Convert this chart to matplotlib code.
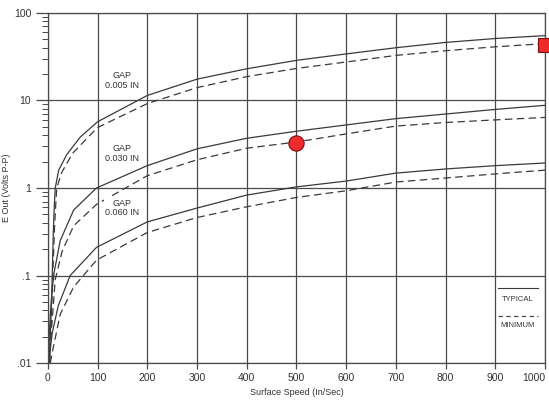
#!/usr/bin/env python
# -*- coding: utf-8 -*-
"""E Out vs surface speed for three probe gaps (log scale)."""

import matplotlib
matplotlib.use('Agg')
import matplotlib.pyplot as plt
from matplotlib.lines import Line2D
from matplotlib.ticker import FixedLocator, LogLocator, NullFormatter

plt.rcParams['font.family'] = ['Liberation Sans', 'DejaVu Sans']

#-----------------------------------------------------------------------------
# Data (speed in In/Sec, E out in Volts P-P)
speed005_typ = [3, 5, 7, 9, 11, 13, 15, 22, 38, 65, 100, 200, 300, 400, 500,
                600, 700, 800, 900, 1000]
gap005_typ = [0.01, 0.02, 0.04, 0.1, 0.3, 0.6, 1.0, 1.6, 2.4, 3.8, 5.7,
              11.4, 17.5, 23.0, 28.7, 34.0, 40.0, 46.0, 51.0, 55.0]

speed005_min = [4, 7, 10, 14, 18, 28, 50, 100, 200, 300, 400, 500, 600, 700,
                800, 900, 1000]
gap005_min = [0.01, 0.03, 0.1, 0.4, 1.0, 1.5, 2.5, 4.9, 9.2, 14.0, 18.7,
              23.2, 27.5, 32.7, 37.0, 41.0, 44.6]

speed030_typ = [1, 3, 5, 9, 13, 25, 52, 98, 200, 300, 400, 500, 600, 700,
                800, 900, 1000]
gap030_typ = [0.01, 0.02, 0.035, 0.07, 0.11, 0.25, 0.56, 1.0, 1.8, 2.8, 3.7,
              4.45, 5.25, 6.2, 7.0, 7.9, 8.8]

speed030_min = [3, 6, 9, 15, 29, 52, 98, 200, 300, 400, 500, 600, 700, 800,
                900, 1000]
gap030_min = [0.01, 0.02, 0.031, 0.09, 0.19, 0.37, 0.65, 1.38, 2.1, 2.85,
              3.35, 4.15, 5.1, 5.6, 6.0, 6.4]

speed060_typ = [3, 6, 9, 21, 45, 98, 200, 300, 400, 500, 600, 700, 800, 900,
                1000]
gap060_typ = [0.01, 0.016, 0.022, 0.045, 0.1, 0.21, 0.41, 0.59, 0.83, 1.03,
              1.2, 1.48, 1.65, 1.8, 1.93]

speed060_min = [5, 11, 25, 52, 98, 200, 300, 400, 500, 600, 700, 800, 900,
                1000]
gap060_min = [0.01, 0.015, 0.036, 0.074, 0.15, 0.31, 0.46, 0.61, 0.78, 0.93,
              1.17, 1.3, 1.45, 1.6]

# labels: (speed, volts, text)
gap_labels = [(150, 17.0, 'GAP\n0.005 IN'),
              (150, 2.5, 'GAP\n0.030 IN'),
              (150, 0.59, 'GAP\n0.060 IN')]

point_circle = (500, 3.3)
point_square = (1000, 42.5)

x_ticks = [0, 100, 200, 300, 400, 500, 600, 700, 800, 900, 1000]
x_ticklabels = ['0', '100', '200', '300', '400', '500', '600', '700', '800',
                '900', '1000']
y_ticks = [0.01, 0.1, 1, 10, 100]
y_ticklabels = ['.01', '.1', '1', '10', '100']

#-----------------------------------------------------------------------------
LINE = '#3a3a3a'
GRID = '#4a4a4a'

fig = plt.figure(figsize=(5.49, 4.03), dpi=100)
ax = fig.add_axes([0.087, 0.099, 0.906, 0.869])

dash = (0, (6, 3.5))
ax.plot(speed005_typ, gap005_typ, color=LINE, lw=0.9)
ax.plot(speed005_min, gap005_min, color=LINE, lw=0.9, ls=dash)
ax.plot(speed030_typ, gap030_typ, color=LINE, lw=0.9)
ax.plot(speed030_min, gap030_min, color=LINE, lw=0.9, ls=dash)
ax.plot(speed060_typ, gap060_typ, color=LINE, lw=0.9)
ax.plot(speed060_min, gap060_min, color=LINE, lw=0.9, ls=dash)

ax.plot(*point_circle, 'o', ms=11, mfc='#ee2a2a', mec='#7a1010', mew=0.8,
        zorder=5)
ax.plot(*point_square, 's', ms=10, mfc='#ee2a2a', mec='#7a1010', mew=0.8,
        zorder=5, clip_on=False)

for sx, sy, txt in gap_labels:
    ax.text(sx, sy, txt, ha='center', va='center', fontsize=6.5,
            color='#333333', linespacing=1.1,
            bbox=dict(facecolor='white', edgecolor='none', pad=1.0))

ax.set_yscale('log')
ax.set_xlim(0, 1000)
ax.set_ylim(0.01, 100)

ax.xaxis.set_major_locator(FixedLocator(x_ticks))
ax.set_xticklabels(x_ticklabels)
ax.get_xticklabels()[-1].set_horizontalalignment('right')
ax.yaxis.set_major_locator(FixedLocator(y_ticks))
ax.set_yticklabels(y_ticklabels)
ax.yaxis.set_minor_locator(LogLocator(base=10, subs=range(2, 10)))
ax.yaxis.set_minor_formatter(NullFormatter())

ax.tick_params(axis='x', which='major', length=4, width=0.9, color=GRID,
               labelsize=7.5, labelcolor='#333333', pad=3)
ax.tick_params(axis='y', which='major', length=9, width=0.9, color=GRID,
               labelsize=7.5, labelcolor='#333333', pad=3)
ax.tick_params(axis='y', which='minor', length=4, width=0.7, color=GRID)

ax.grid(True, which='major', color=GRID, lw=0.9)
for s in ax.spines.values():
    s.set_color(GRID)
    s.set_linewidth(0.9)

ax.set_xlabel('Surface Speed (In/Sec)', fontsize=6.5, color='#333333',
              labelpad=4)
ax.set_ylabel('E Out (Volts P-P)', fontsize=6.5, color='#333333',
              labelpad=2)

# legend drawn in the lower right cell
tr = ax.transAxes
ax.add_line(Line2D([0.905, 0.985], [0.215, 0.215], color=LINE, lw=0.8,
                   transform=tr))
ax.text(0.945, 0.183, 'TYPICAL', transform=tr, ha='center', va='center',
        fontsize=5.5, color='#333333')
ax.add_line(Line2D([0.905, 0.985], [0.135, 0.135], color=LINE, lw=0.8,
                   ls=(0, (4, 3)), transform=tr))
ax.text(0.945, 0.107, 'MINIMUM', transform=tr, ha='center', va='center',
        fontsize=5.5, color='#333333')

fig.savefig('out.png', dpi=100)
